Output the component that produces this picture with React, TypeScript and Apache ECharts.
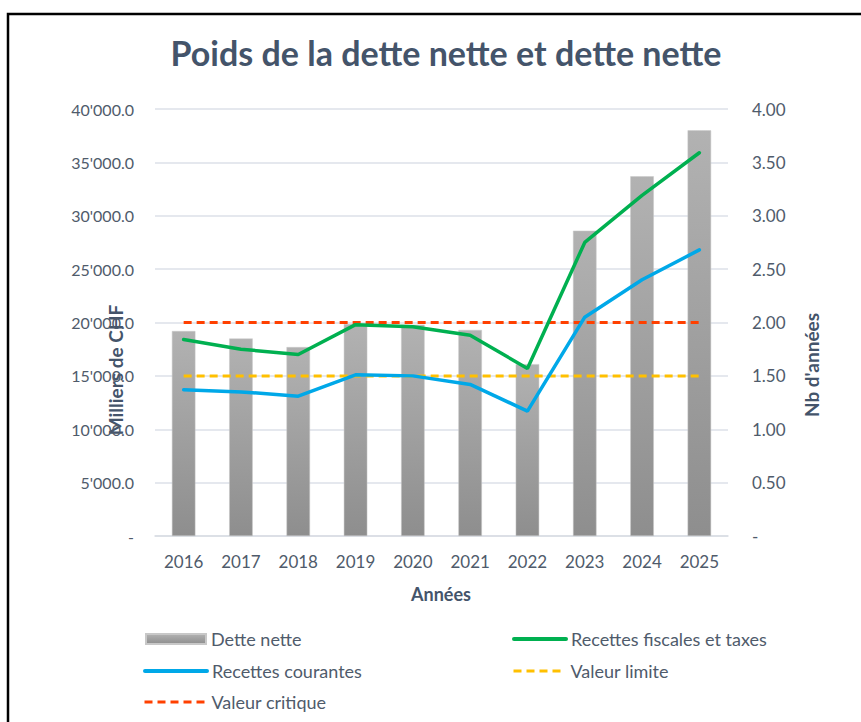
import React, { useEffect, useRef } from "react";
import * as echarts from "echarts";

const years = ["2016", "2017", "2018", "2019", "2020", "2021", "2022", "2023", "2024", "2025"];
const detteNette = [19200, 18500, 17700, 19850, 19800, 19300, 16100, 28600, 33700, 38000];
const recettesFiscales = [1.84, 1.75, 1.70, 1.98, 1.96, 1.88, 1.57, 2.75, 3.19, 3.59];
const recettesCourantes = [1.37, 1.35, 1.31, 1.51, 1.50, 1.42, 1.17, 2.05, 2.40, 2.68];
const valeurLimite = [1.5, 1.5, 1.5, 1.5, 1.5, 1.5, 1.5, 1.5, 1.5, 1.5];
const valeurCritique = [2, 2, 2, 2, 2, 2, 2, 2, 2, 2];

const FONT = "Lato, 'Open Sans', sans-serif";
const TXT = "#4f5b6b";

function fmtLeft(v: number): string {
  if (v === 0) return "-";
  const s = Math.round(v).toString().replace(/\B(?=(\d{3})+(?!\d))/g, "'");
  return s + ".0";
}

export default function App() {
  const ref = useRef<HTMLDivElement>(null);
  useEffect(() => {
    if (!ref.current) return;
    const chart = echarts.init(ref.current, undefined, { renderer: "svg" });
    const legendBase = {
      orient: "horizontal",
      padding: 0,
      itemHeight: 12,
      itemGap: 6,
      textStyle: { fontFamily: FONT, fontSize: 18, color: TXT },
    };
    const solidLegend = { ...legendBase, itemWidth: 52, itemStyle: { opacity: 0 }, lineStyle: { width: 4 } };
    const dashLegend = { ...legendBase, itemWidth: 52, itemStyle: { opacity: 0 }, lineStyle: { width: 3 } };
    chart.setOption({
      animation: false,
      backgroundColor: "#ffffff",
      title: {
        text: "Poids de la dette nette et dette nette",
        left: 441,
        textAlign: "center",
        top: 30,
        textStyle: { fontFamily: FONT, fontSize: 34, fontWeight: "bold", color: "#44546a" },
      },
      graphic: [
        {
          type: "rect",
          silent: true,
          z: -10,
          shape: { x: 8, y: 14, width: 900, height: 800 },
          style: { fill: "none", stroke: "#000", lineWidth: 2.5 },
        },
        {
          type: "text",
          x: 115,
          y: 370,
          rotation: Math.PI / 2,
          style: {
            text: "Milliers de CHF",
            fontFamily: FONT,
            fontSize: 19,
            fontWeight: "bold",
            fill: "#44546a",
            align: "center",
            verticalAlign: "middle",
          },
        },
        {
          type: "text",
          x: 811,
          y: 365,
          rotation: Math.PI / 2,
          style: {
            text: "Nb d'années",
            fontFamily: FONT,
            fontSize: 19,
            fontWeight: "bold",
            fill: "#44546a",
            align: "center",
            verticalAlign: "middle",
          },
        },
        {
          type: "text",
          x: 441,
          y: 594,
          style: {
            text: "Années",
            fontFamily: FONT,
            fontSize: 18,
            fontWeight: "bold",
            fill: "#44546a",
            align: "center",
            verticalAlign: "middle",
          },
        },
      ],
      legend: [
        { ...legendBase, left: 145, top: 630, itemWidth: 60, itemHeight: 10, icon: "rect", data: ["Dette nette"] },
        { ...solidLegend, left: 512, top: 630, data: ["Recettes fiscales et taxes"] },
        { ...solidLegend, left: 143, top: 662, itemWidth: 62, data: ["Recettes courantes"] },
        { ...dashLegend, left: 512, top: 662, data: ["Valeur limite"] },
        { ...dashLegend, left: 143, top: 693, itemWidth: 62, data: ["Valeur critique"] },
      ],
      grid: { left: 155, right: 133, top: 109, bottom: 186, containLabel: false },
      xAxis: {
        type: "category",
        data: years,
        axisLine: { lineStyle: { color: "#d9dde3", width: 1.5 } },
        axisTick: { show: false },
        axisLabel: { fontFamily: FONT, fontSize: 17, color: TXT, margin: 17 },
      },
      yAxis: [
        {
          type: "value",
          min: 0,
          max: 40000,
          interval: 5000,
          axisLine: { show: false },
          axisTick: { show: false },
          splitLine: { lineStyle: { color: "#dde1e8", width: 1.5 } },
          axisLabel: { fontFamily: FONT, fontSize: 16, color: TXT, margin: 21, formatter: fmtLeft },
        },
        {
          type: "value",
          min: 0,
          max: 4,
          interval: 0.5,
          axisLine: { show: false },
          axisTick: { show: false },
          splitLine: { show: false },
          axisLabel: {
            fontFamily: FONT,
            fontSize: 17,
            color: TXT,
            margin: 24,
            formatter: (v: number) => (v === 0 ? "-" : v.toFixed(2)),
          },
        },
      ],
      series: [
        {
          name: "Dette nette",
          type: "bar",
          data: detteNette,
          barWidth: "41%",
          itemStyle: {
            color: new echarts.graphic.LinearGradient(0, 0, 0, 1, [
              { offset: 0, color: "#b2b2b2" },
              { offset: 1, color: "#8e8e8e" },
            ]),
            borderColor: "#c8c8c8",
            borderWidth: 0.5,
          },
        },
        {
          name: "Valeur limite",
          type: "line",
          yAxisIndex: 1,
          data: valeurLimite,
          showSymbol: false,
          symbol: "none",
          lineStyle: { color: "#ffc000", width: 3, type: [8, 5] },
          itemStyle: { color: "#ffc000" },
          z: 3,
        },
        {
          name: "Valeur critique",
          type: "line",
          yAxisIndex: 1,
          data: valeurCritique,
          showSymbol: false,
          symbol: "none",
          lineStyle: { color: "#ff4000", width: 3, type: [8, 5] },
          itemStyle: { color: "#ff4000" },
          z: 3,
        },
        {
          name: "Recettes fiscales et taxes",
          type: "line",
          yAxisIndex: 1,
          data: recettesFiscales,
          showSymbol: false,
          symbol: "none",
          lineStyle: { color: "#00b050", width: 3.5, cap: "round" },
          itemStyle: { color: "#00b050" },
          z: 4,
        },
        {
          name: "Recettes courantes",
          type: "line",
          yAxisIndex: 1,
          data: recettesCourantes,
          showSymbol: false,
          symbol: "none",
          lineStyle: { color: "#00a8e8", width: 3.5, cap: "round" },
          itemStyle: { color: "#00a8e8" },
          z: 4,
        },
      ],
    });
    return () => chart.dispose();
  }, []);
  return (
    <div
      ref={ref}
      style={{ position: "fixed", left: 0, top: 0, width: 861, height: 722, background: "#fff" }}
    />
  );
}
